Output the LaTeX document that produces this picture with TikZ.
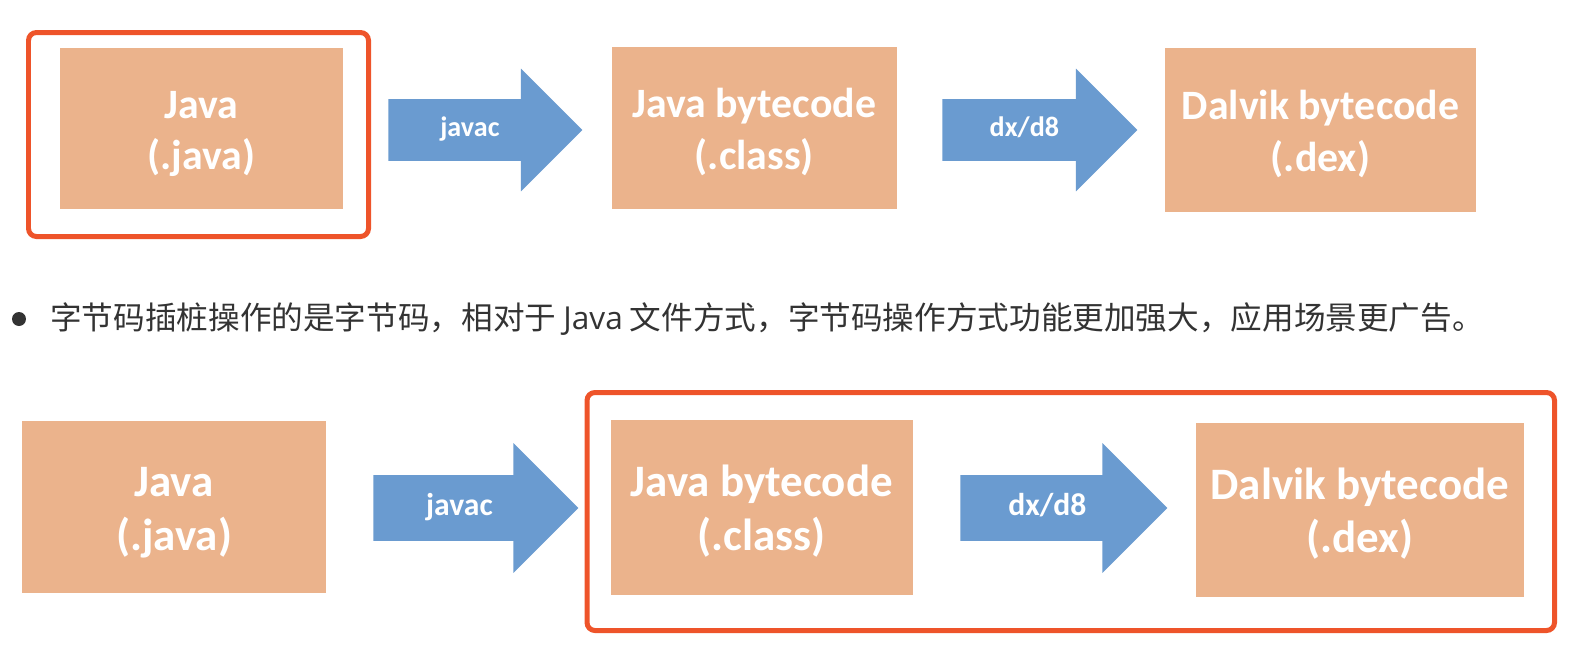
\documentclass[tikz,border=0pt]{standalone}
\usepackage{fontspec}
\setmainfont{Carlito}
\newfontfamily\cjk{Noto Sans CJK SC}
\newfontfamily\opensans{Open Sans}
\usepackage{xcolor}
\definecolor{boxPeach}{RGB}{235,179,140}
\definecolor{arrowBlue}{RGB}{106,155,208}
\definecolor{frameRed}{RGB}{238,84,42}
\definecolor{noteGray}{RGB}{51,51,51}
\usetikzlibrary{shapes.arrows}

\begin{document}
\begin{tikzpicture}[x=0.02cm, y=-0.02cm,
    filebox/.style={fill=boxPeach, text=white, align=center, inner sep=0pt},
    titleA/.style={font=\fontsize{23.8}{29.2}\selectfont\bfseries, text height=52.7pt, text depth=6pt},
    titleB/.style={font=\fontsize{25.6}{30.5}\selectfont\bfseries, text height=55.1pt, text depth=6pt},
    blockarrow/.style={single arrow, fill=arrowBlue, text=white, inner sep=0pt,
        single arrow tip angle=90, anchor=tail},
    labelA/.style={font=\fontsize{16}{19}\selectfont\bfseries,
        text height=0.742cm, text depth=0.478cm, single arrow head extend=0.61cm},
    labelB/.style={font=\fontsize{18}{21}\selectfont\bfseries,
        text height=0.799cm, text depth=0.501cm, single arrow head extend=0.64cm},
    hilite/.style={draw=frameRed, line width=0.1cm, rounded corners=0.16cm}]
    \useasboundingbox (0,0) rectangle (1580,646);
    % first row: the .java source is marked
    \node[filebox, titleA, minimum width=5.68cm, minimum height=3.24cm] (javaA) at (201.5,128.5) {Java\\(.java)};
    \node[filebox, titleA, minimum width=5.70cm, minimum height=3.24cm] (classA) at (754.3,128) {Java bytecode\\(.class)};
    \node[filebox, titleA, minimum width=6.22cm, minimum height=3.28cm] (dexA) at (1320.5,130) {Dalvik bytecode\\(.dex)};
    \node[blockarrow, labelA, minimum height=3.88cm] (javacA) at (388,130) {javac};
    \node[blockarrow, labelA, minimum height=3.90cm] (dxA) at (942,130) {dx/d8};
    \draw[hilite] (28.5,32.5) rectangle (368.5,236.5);
    % note in between
    \node[circle, fill=noteGray, inner sep=0pt, minimum size=0.28cm] (dot) at (19,319) {};
    \node[anchor=west, inner sep=0pt, text=noteGray, font=\cjk\fontsize{18}{22}\selectfont] (note) at (50,319)
        {字节码插桩操作的是字节码，相对于 {\opensans Java} 文件方式，字节码操作方式功能更加强大，应用场景更广告。};
    % second row: the bytecode part is marked
    \node[filebox, titleB, minimum width=6.08cm, minimum height=3.44cm] (javaB) at (174,507) {Java\\(.java)};
    \node[filebox, titleB, minimum width=6.05cm, minimum height=3.49cm] (classB) at (761.8,507.3) {Java bytecode\\(.class)};
    \node[filebox, titleB, minimum width=6.55cm, minimum height=3.47cm] (dexB) at (1359.8,509.8) {Dalvik bytecode\\(.dex)};
    \node[blockarrow, labelB, minimum height=4.10cm] (javacB) at (373,508) {javac};
    \node[blockarrow, labelB, minimum height=4.14cm] (dxB) at (960,508) {dx/d8};
    \draw[hilite] (587,392.5) rectangle (1554.5,630.5);
\end{tikzpicture}
\end{document}
